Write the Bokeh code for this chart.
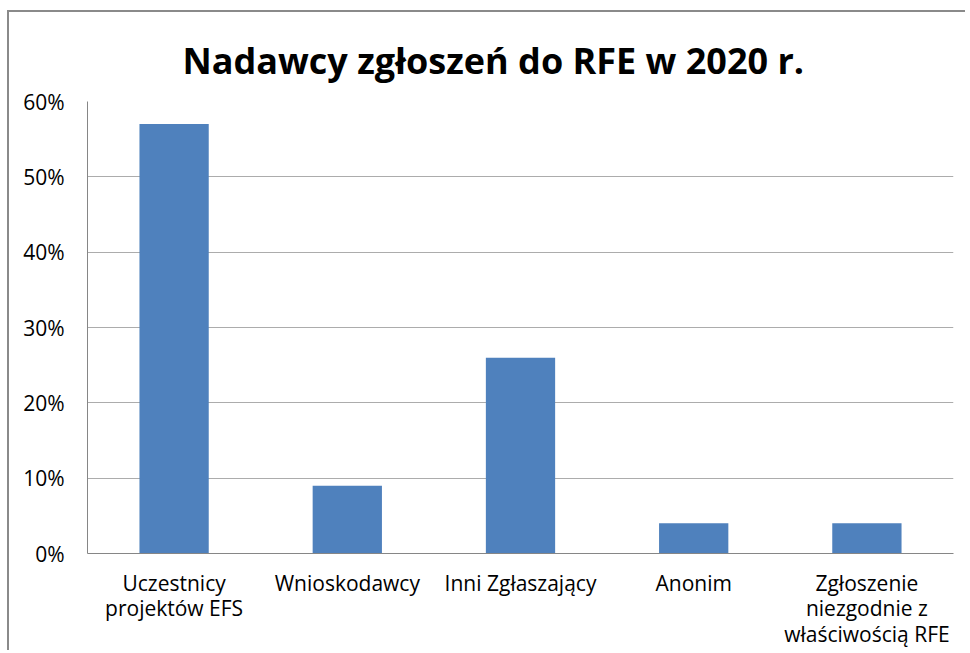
from bokeh.plotting import figure
from bokeh.models import NumeralTickFormatter, FixedTicker, Range1d, FactorRange
from bokeh.embed import file_html
from bokeh.resources import INLINE

categories = ["Uczestnicy\nprojektów EFS", "Wnioskodawcy", "Inni Zgłaszający", "Anonim",
              "Zgłoszenie\nniezgodnie z\nwłaściwością RFE"]
values = [0.57, 0.09, 0.26, 0.04, 0.04]
y_ticks = [0.0, 0.1, 0.2, 0.3, 0.4, 0.5, 0.6]
title_text = "Nadawcy zgłoszeń do RFE w 2020 r."

p = figure(width=958, height=640, x_range=FactorRange(factors=categories),
           y_range=Range1d(0, 0.6), output_backend="svg", toolbar_location=None,
           min_border_left=78, min_border_right=14, min_border_top=89, min_border_bottom=99)
p.styles = {"border-left": "2px solid #8a8a8a", "border-top": "2px solid #8a8a8a",
            "margin-left": "7px", "margin-top": "10px"}

p.vbar(x=categories, top=values, width=0.4, color="#4f81bd", line_color=None)

p.title.text = title_text
p.title.align = "left"
p.title.offset = 95
p.title.vertical_align = "top"
p.title.text_font = "Open Sans"
p.title.text_font_size = "36px"
p.title.text_font_style = "bold"
p.title.text_color = "#000000"
p.title.standoff = 30

p.outline_line_color = None
p.background_fill_color = "white"
p.border_fill_color = "white"

p.yaxis.ticker = FixedTicker(ticks=y_ticks)
p.yaxis.formatter = NumeralTickFormatter(format="0%")
for ax in (p.xaxis, p.yaxis):
    ax.axis_line_color = "#868686"
    ax.axis_line_width = 1
    ax.major_tick_line_color = None
    ax.minor_tick_line_color = None
    ax.major_tick_out = 0
    ax.major_tick_in = 0
    ax.major_label_text_font = "Open Sans"
    ax.major_label_text_font_size = "21px"
    ax.major_label_text_color = "#000000"
p.xaxis.major_label_text_line_height = 0.92
p.yaxis.major_label_standoff = 23
p.xaxis.major_label_standoff = 15

p.xgrid.grid_line_color = None
p.ygrid.grid_line_color = "#acacac"
p.ygrid.grid_line_width = 1

open("out.html", "w").write(file_html(p, INLINE))
